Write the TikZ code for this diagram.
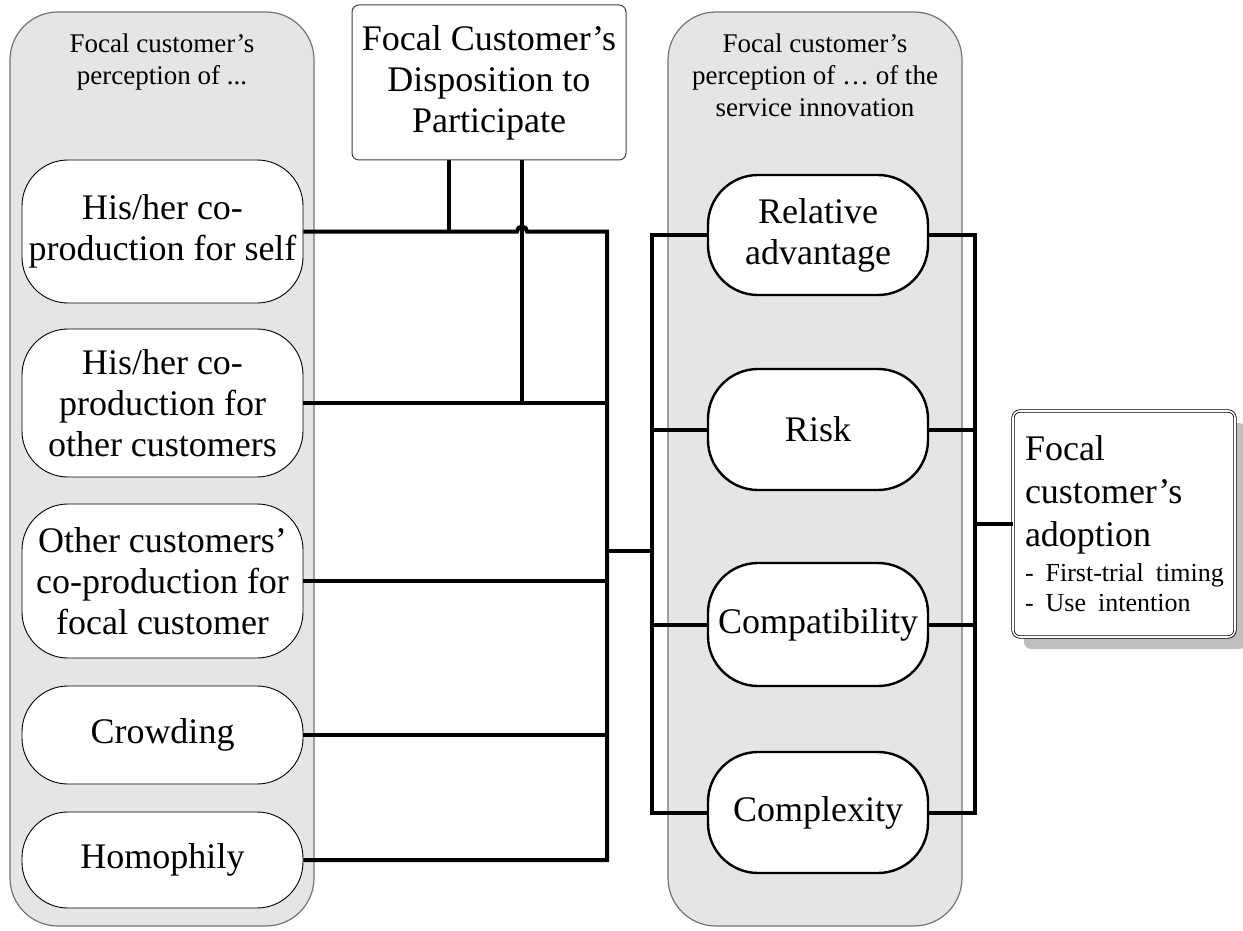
\documentclass[tikz,border=0pt]{standalone}
\usepackage{fontspec}
\setmainfont{Liberation Serif}
\usetikzlibrary{positioning,shadows}

\begin{document}
\begin{tikzpicture}[
  x=1pt, y=-1pt,
  font=\fontsize{36}{41}\selectfont,
  panel/.style={
    draw=black!55,
    line width=1.2pt,
    fill=black!10,
    rounded corners=48pt,
    minimum height=914pt,
    inner sep=0pt
  },
  paneltitle/.style={align=center,font=\fontsize{27}{32}\selectfont,inner sep=0pt},
  antecedent/.style={
    draw,
    line width=0.9pt,
    fill=white,
    rounded corners=46pt,
    align=center,
    minimum width=281pt,
    inner sep=0pt
  },
  attribute/.style={
    draw,
    line width=2.4pt,
    fill=white,
    rounded corners=50pt,
    align=center,
    minimum width=220pt,
    inner sep=0pt
  },
  disposition/.style={
    draw=black!75,
    line width=1pt,
    fill=white,
    rounded corners=7pt,
    align=center,
    minimum width=274pt,
    minimum height=155pt,
    inner sep=0pt
  },
  outcome/.style={
    draw,
    line width=0.8pt,
    double,
    double distance=1.6pt,
    fill=white,
    rounded corners=7pt,
    text width=198pt,
    minimum height=226pt,
    inner xsep=12pt,
    inner ysep=0pt,
    drop shadow={shadow xshift=11pt,shadow yshift=-12pt,fill=black!25,opacity=1}
  },
  link/.style={line width=4pt}
]
  \useasboundingbox (0,0) rectangle (1243,931);

  % the two grey groups
  \node[panel,minimum width=304pt] (leftpanel) at (162,469) {};
  \node[panel,minimum width=294pt] (rightpanel) at (815,469) {};

  \node[paneltitle,anchor=north] (lefttitle) at (162,34) {Focal customer's\\perception of ...};
  \node[paneltitle,anchor=north] (righttitle) at (815,34) {Focal customer's\\perception of … of the\\service innovation};

  % antecedents
  \node[antecedent,minimum height=143pt] (self) at (162.5,231.5) {His/her co-\\production for self};
  \node[antecedent,minimum height=148pt] (other) at (162.5,403) {His/her co-\\production for\\other customers};
  \node[antecedent,minimum height=154pt] (others) at (162.5,581) {Other customers'\\co-production for\\focal customer};
  \node[antecedent,minimum height=98pt] (crowding) at (162.5,735) {Crowding};
  \node[antecedent,minimum height=96pt] (homophily) at (162.5,860) {Homophily};

  \node[disposition] (disp) at (489,82.5) {Focal Customer's\\Disposition to\\Participate};

  % innovation attributes
  \node[attribute,minimum height=120pt] (relative) at (818,235) {Relative\\advantage};
  \node[attribute,minimum height=121pt] (risk) at (818,429.5) {Risk};
  \node[attribute,minimum height=123pt] (compat) at (818,624.5) {Compatibility};
  \node[attribute,minimum height=121pt] (complex) at (818,812.5) {Complexity};

  \node[outcome] (adoption) at (1124,524) {%
    \raggedright\parindent=0pt
    {\fontsize{36}{43}\selectfont Focal\\customer's\\adoption\par}
    \vspace{5pt}
    {\fontsize{26}{30}\selectfont \mbox{- First-trial timing}\\\mbox{- Use intention}\par}};

  % bus lines
  \coordinate (lbus) at (607,0);
  \coordinate (rbusL) at (652,0);
  \coordinate (rbusR) at (975,0);
  \coordinate (bridge) at (607,551);
  \coordinate (hop) at ([xshift=33pt]disp.south |- self.east);

  \draw[link] (self.east) -- ([xshift=-5pt]hop)
    arc[start angle=180,end angle=0,radius=5pt]
    -- (self.east -| lbus) -- (homophily.east -| lbus) -- (homophily.east);
  \draw[link] (other.east) -- (other.east -| lbus);
  \draw[link] (others.east) -- (others.east -| lbus);
  \draw[link] (crowding.east) -- (crowding.east -| lbus);

  \draw[link] ([xshift=-40pt]disp.south) -- ([xshift=-40pt]disp.south |- self.east);
  \draw[link] ([xshift=33pt]disp.south) -- ([xshift=33pt]disp.south |- other.east);

  \draw[link] (bridge) -- (bridge -| rbusL);

  \draw[link] (relative.west) -- (relative.west -| rbusL) -- (complex.west -| rbusL) -- (complex.west);
  \draw[link] (risk.west) -- (risk.west -| rbusL);
  \draw[link] (compat.west) -- (compat.west -| rbusL);

  \draw[link] (relative.east) -- (relative.east -| rbusR) -- (complex.east -| rbusR) -- (complex.east);
  \draw[link] (risk.east) -- (risk.east -| rbusR);
  \draw[link] (compat.east) -- (compat.east -| rbusR);
  \draw[link] (adoption.west -| rbusR) -- (adoption.west);
\end{tikzpicture}
\end{document}
